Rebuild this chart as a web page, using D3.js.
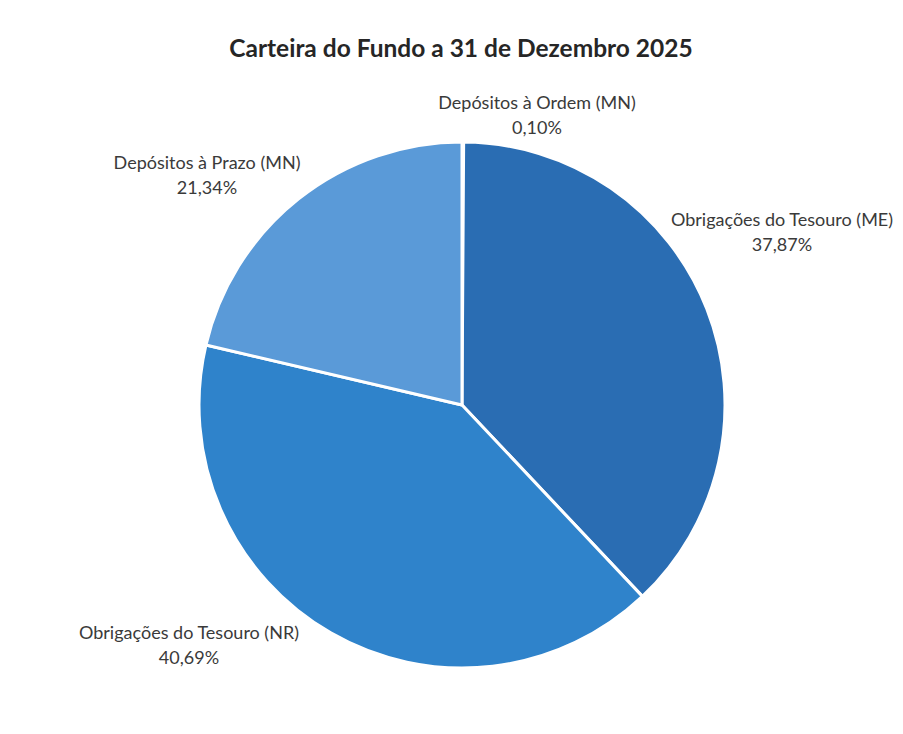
<!DOCTYPE html>
<html>
<head>
<meta charset="utf-8">
<script src="https://cdn.jsdelivr.net/npm/d3@7"></script>
<style>
  body { margin: 0; background: #fff; }
  text { font-family: Lato, "Open Sans", sans-serif; }
</style>
</head>
<body>
<div id="chart"></div>
<script>
const categories = [
  "Depósitos à Ordem (MN)",
  "Obrigações do Tesouro (ME)",
  "Obrigações do Tesouro (NR)",
  "Depósitos à Prazo (MN)"
];
const shares = [0.10, 37.87, 40.69, 21.34];
const colors = ["#2f7fc6", "#2a6db3", "#2f83cb", "#5a9ad8"];
const title = "Carteira do Fundo a 31 de Dezembro 2025";

const width = 903;
const height = 734;
const cx = 462, cy = 405, radius = 263;

// where Excel put each label (offset from pie centre)
const labelOffsets = [[75, -290], [320, -173], [-273, 240], [-255, -230]];

const fmt = v => v.toFixed(2).replace(".", ",") + "%";

const svg = d3.select("#chart").append("svg")
  .attr("width", width)
  .attr("height", height);

svg.append("rect").attr("width", width).attr("height", height).attr("fill", "#fff");

svg.append("text")
  .attr("x", 461)
  .attr("y", 57)
  .attr("text-anchor", "middle")
  .style("font-size", "24.5px")
  .style("font-weight", "bold")
  .style("fill", "#262626")
  .text(title);

const data = categories.map((name, i) => ({ name, value: shares[i], color: colors[i], i }));

const pie = d3.pie().sort(null).value(d => d.value);
const arc = d3.arc().innerRadius(0).outerRadius(radius);

const g = svg.append("g").attr("transform", `translate(${cx},${cy})`);

g.selectAll("path")
  .data(pie(data))
  .enter()
  .append("path")
  .attr("d", arc)
  .attr("fill", d => d.data.color)
  .attr("stroke", "#fff")
  .attr("stroke-width", 3)
  .attr("stroke-linejoin", "round");

const labels = g.selectAll("text.lbl")
  .data(data)
  .enter()
  .append("text")
  .attr("class", "lbl")
  .attr("text-anchor", "middle")
  .attr("transform", d => `translate(${labelOffsets[d.i][0]},${labelOffsets[d.i][1]})`)
  .style("font-size", "18px")
  .style("fill", "#3a3a3a");

labels.append("tspan").attr("x", 0).attr("y", -6).text(d => d.name);
labels.append("tspan").attr("x", 0).attr("y", 19).text(d => fmt(d.value));
</script>
</body>
</html>
